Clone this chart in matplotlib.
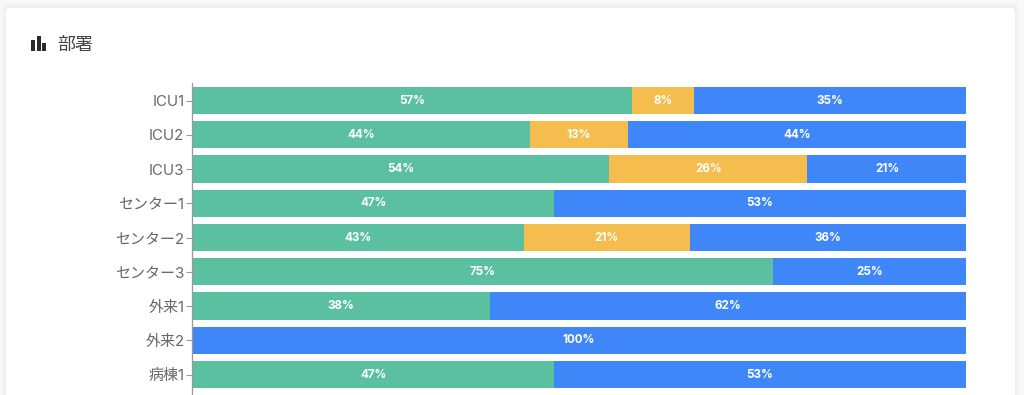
import matplotlib
matplotlib.use('Agg')
import matplotlib.pyplot as plt
from matplotlib.patches import FancyBboxPatch, Rectangle

plt.rcParams['font.family'] = ['Inter', 'Noto Sans CJK JP', 'DejaVu Sans']

departments = ['ICU1', 'ICU2', 'ICU3', 'センター1', 'センター2', 'センター3', '外来1', '外来2', '病棟1']
green_vals = [56.8, 43.7, 53.9, 46.8, 42.9, 75.0, 38.5, 0, 46.8]
yellow_vals = [8.1, 12.6, 25.6, 0, 21.4, 0, 0, 0, 0]
blue_vals = [35.1, 43.7, 20.6, 53.2, 35.7, 25.0, 61.5, 100, 53.2]

W, H = 1024, 395
fig = plt.figure(figsize=(W / 100, H / 100), dpi=100, facecolor='#f8f8f8')

# card with soft shadow, kept under the axes
for grow, col in [(5, '#f6f6f6'), (3, '#f2f2f2'), (1, '#eeeeee')]:
    fig.add_artist(FancyBboxPatch((6 - grow, H - 8 - 420 - grow + 1), 1009 + 2 * grow, 420 + 2 * grow,
                                  boxstyle='round,pad=0,rounding_size=4', transform=None,
                                  facecolor=col, edgecolor='none', zorder=-3))
fig.add_artist(FancyBboxPatch((6, H - 8 - 420), 1009, 420, boxstyle='round,pad=0,rounding_size=4',
                              transform=None, facecolor='white', edgecolor='none', zorder=-2))

# title icon
for x0, top in [(31, 40), (36.5, 36), (42, 43)]:
    fig.add_artist(Rectangle((x0, H - 51), 4.2, 51 - top, transform=None, facecolor='#2b2b2b',
                             edgecolor='none', zorder=-1))
fig.text(57.5 / W, 1 - 45.5 / H, '部署', fontsize=13, color='#444444', va='center', ha='left')

pitch = 34.25
ax_top, ax_bottom = 83.4, 400
ax = fig.add_axes([192 / W, 1 - ax_bottom / H, 774 / W, (ax_bottom - ax_top) / H])
ax.patch.set_alpha(0)
ax.set_xlim(0, 100)
ax.set_ylim((ax_bottom - 100.5) / pitch, (ax_top - 100.5) / pitch)

y = list(range(len(departments)))
left = [0] * len(y)
for vals, col in [(green_vals, '#5BC0A0'), (yellow_vals, '#F5BC4E'), (blue_vals, '#3F87F9')]:
    ax.barh(y, vals, height=0.8, left=left, color=col, edgecolor='none')
    for i, v in enumerate(vals):
        if v > 0:
            ax.text(left[i] + v / 2, i, '%.0f%%' % v, color='white', fontsize=8.4, fontweight='bold',
                    ha='center', va='center')
    left = [a + b for a, b in zip(left, vals)]

ax.set_yticks(y, departments)
ax.tick_params(axis='y', length=4, width=0.8, color='#999999', labelcolor='#666666', labelsize=10.8, pad=1.5)
ax.xaxis.set_visible(False)
for s in ['top', 'right', 'bottom']:
    ax.spines[s].set_visible(False)
ax.spines['left'].set_color('#999999')
ax.spines['left'].set_linewidth(0.9)

fig.savefig('out.png', dpi=100, facecolor=fig.get_facecolor())
